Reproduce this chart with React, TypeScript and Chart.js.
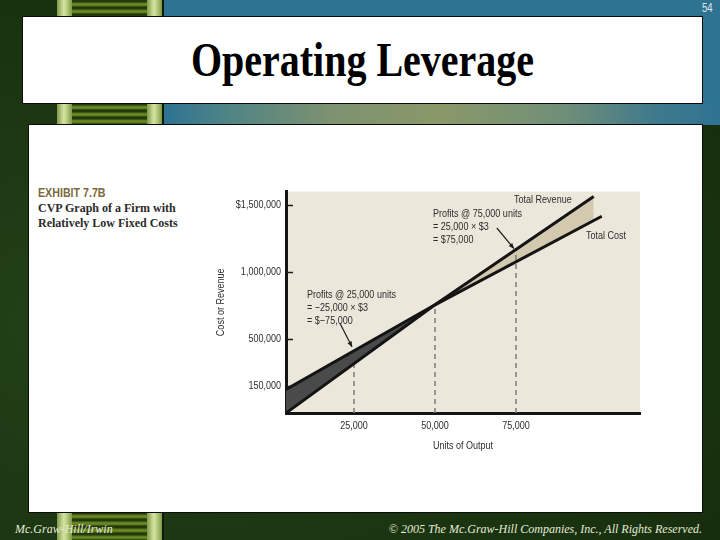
import React, { useEffect, useRef } from 'react';
import { Chart, registerables } from 'chart.js';

Chart.register(...registerables);

// ---- data ----
const xTickValues = [25000, 50000, 75000];
const xTickLabels = ['25,000', '50,000', '75,000'];
const yTickValues = [150000, 500000, 1000000, 1500000];
const yTickLabels = ['150,000', '500,000', '1,000,000', '$1,500,000'];

const xAxisMin = 4000;
const xAxisMax = 113300;
const yAxisMin = -51500;
const yAxisMax = 1603000;

const revenueUnits = [4000, 50000, 99000];
const revenueValues = [-51500, 757000, 1566000];
const costUnits = [4000, 50000, 101500];
const costValues = [125000, 757000, 1419000];

const guideUnits = [25000, 50000, 75000];
const guideTops = [325000, 757000, 1169000];

const revenueLabel = 'Total Revenue';
const costLabel = 'Total Cost';
const profit75Lines = ['Profits @ 75,000 units', '= 25,000 \u00d7 $3', '= $75,000'];
const profit25Lines = ['Profits @ 25,000 units', '= \u221225,000 \u00d7 $3', '= $\u221275,000'];

const SANS = "'Liberation Sans', Arial, sans-serif";
const SERIF = "'Liberation Serif', 'Times New Roman', serif";
const NARROW_SCALE = 0.82;

// make every text drawn on this canvas narrow (mimics a condensed face)
function makeNarrow(ctx: any) {
  if (ctx.__narrow) return;
  ctx.__narrow = true;
  const orig = ctx.fillText;
  ctx.fillText = function (text: string, x: number, y: number, maxWidth?: number) {
    this.save();
    this.translate(x, y);
    this.scale(NARROW_SCALE, 1);
    if (maxWidth !== undefined) orig.call(this, text, 0, 0, maxWidth / NARROW_SCALE);
    else orig.call(this, text, 0, 0);
    this.restore();
  };
}

const annotationPlugin = {
  id: 'cvpAnnotations',
  beforeDraw(chart: any) {
    const { ctx, chartArea } = chart;
    ctx.save();
    ctx.fillStyle = '#ebe7db';
    ctx.fillRect(chartArea.left, chartArea.top, chartArea.right - chartArea.left, chartArea.bottom - chartArea.top);
    ctx.restore();
  },
  afterDraw(chart: any) {
    const { ctx, chartArea } = chart;
    const xs = chart.scales.x;
    const ys = chart.scales.y;
    const px = (u: number) => xs.getPixelForValue(u);
    const py = (v: number) => ys.getPixelForValue(v);
    ctx.save();
    // inner tick marks on y axis
    ctx.strokeStyle = '#1a1a1a';
    ctx.lineWidth = 1.5;
    yTickValues.forEach((v) => {
      const y = Math.round(py(v)) + 0.5;
      ctx.beginPath();
      ctx.moveTo(chartArea.left, y);
      ctx.lineTo(chartArea.left + 7, y);
      ctx.stroke();
    });

    ctx.font = `11px ${SANS}`;
    ctx.fillStyle = '#2e2e2e';
    ctx.textAlign = 'left';
    ctx.textBaseline = 'middle';
    ctx.fillText(revenueLabel, px(74400), py(1544000));
    ctx.fillText(costLabel, px(96600), py(1272000));
    profit75Lines.forEach((t, i) => ctx.fillText(t, px(49400), py(1434000) + i * 13));
    profit25Lines.forEach((t, i) => ctx.fillText(t, px(10500), py(831000) + i * 13));

    const arrow = (x1: number, y1: number, x2: number, y2: number) => {
      ctx.strokeStyle = '#1e1e1e';
      ctx.fillStyle = '#1e1e1e';
      ctx.lineWidth = 1.2;
      ctx.beginPath();
      ctx.moveTo(x1, y1);
      ctx.lineTo(x2, y2);
      ctx.stroke();
      const a = Math.atan2(y2 - y1, x2 - x1);
      const L = 6;
      ctx.beginPath();
      ctx.moveTo(x2, y2);
      ctx.lineTo(x2 - L * Math.cos(a - 0.4), y2 - L * Math.sin(a - 0.4));
      ctx.lineTo(x2 - L * Math.cos(a + 0.4), y2 - L * Math.sin(a + 0.4));
      ctx.closePath();
      ctx.fill();
    };
    arrow(px(69100), py(1331000), px(74400), py(1176000));
    arrow(px(20700), py(618000), px(24400), py(441000));
    ctx.restore();
  },
};

function CvpChart() {
  const ref = useRef<HTMLCanvasElement | null>(null);
  useEffect(() => {
    if (!ref.current) return;
    makeNarrow(ref.current.getContext('2d'));
    const lineColor = '#141414';
    const chart = new Chart(ref.current, {
      type: 'line',
      data: {
        datasets: [
          {
            label: 'Total Revenue',
            data: revenueUnits.map((u, i) => ({ x: u, y: revenueValues[i] })),
            borderColor: lineColor,
            borderWidth: 3,
            pointRadius: 0,
            fill: { target: 1, above: '#d2c9af', below: '#4a4a4a' },
          },
          {
            label: 'Total Cost',
            data: costUnits.map((u, i) => ({ x: u, y: costValues[i] })),
            borderColor: lineColor,
            borderWidth: 3,
            pointRadius: 0,
            fill: false,
          },
          ...guideUnits.map((u, i) => ({
            label: 'guide' + i,
            data: [
              { x: u, y: yAxisMin },
              { x: u, y: guideTops[i] },
            ],
            borderColor: '#7a7a7a',
            borderWidth: 1.5,
            borderDash: [5, 4],
            pointRadius: 0,
            fill: false,
          })),
        ],
      } as any,
      options: {
        animation: false,
        responsive: false,
        events: [],
        layout: { padding: { left: 0, right: 10, top: 8, bottom: 0 } },
        plugins: {
          legend: { display: false },
          tooltip: { enabled: false },
          filler: { drawTime: 'beforeDatasetsDraw' },
        } as any,
        scales: {
          x: {
            type: 'linear',
            min: xAxisMin,
            max: xAxisMax,
            afterBuildTicks: (s: any) => {
              s.ticks = xTickValues.map((v) => ({ value: v }));
            },
            afterFit: (s: any) => {
              s.height = 47;
            },
            ticks: {
              autoSkip: false,
              maxRotation: 0,
              padding: 6,
              color: '#2e2e2e',
              font: { family: SANS, size: 11 },
              callback: (v: any) => {
                const i = xTickValues.indexOf(Number(v));
                return i >= 0 ? xTickLabels[i] : '';
              },
            },
            grid: { display: false, drawTicks: false },
            border: { display: true, color: '#141414', width: 3 },
            title: {
              display: true,
              text: 'Units of Output',
              color: '#2e2e2e',
              font: { family: SANS, size: 11 },
              padding: { top: 0, bottom: 7 },
            },
          },
          y: {
            type: 'linear',
            min: yAxisMin,
            max: yAxisMax,
            afterBuildTicks: (s: any) => {
              s.ticks = yTickValues.map((v) => ({ value: v }));
            },
            afterFit: (s: any) => {
              s.width = 86;
            },
            ticks: {
              autoSkip: false,
              padding: 5,
              color: '#2e2e2e',
              font: { family: SANS, size: 11 },
              callback: (v: any) => {
                const i = yTickValues.indexOf(Number(v));
                return i >= 0 ? yTickLabels[i] : '';
              },
            },
            grid: { display: false, drawTicks: false },
            border: { display: true, color: '#141414', width: 3 },
            title: {
              display: true,
              text: 'Cost or Revenue',
              color: '#2e2e2e',
              font: { family: SANS, size: 11 },
              padding: { top: 14, bottom: 0 },
            },
          },
        },
      } as any,
      plugins: [annotationPlugin],
    });
    return () => chart.destroy();
  }, []);
  return <canvas ref={ref} width={450} height={280} style={{ display: 'block', width: 450, height: 280 }} />;
}

function Ladder({ top, height }: { top: number; height: number }) {
  const bar = 'linear-gradient(to right, #7f9a48, #d5e3a2 45%, #c2d48a 60%, #7f9a48)';
  return (
    <div style={{ position: 'absolute', left: 57, top, width: 107, height }}>
      <div style={{ position: 'absolute', left: 0, top: 0, width: 15, height, background: bar }} />
      <div
        style={{
          position: 'absolute',
          left: 15,
          top: 0,
          width: 75,
          height,
          background:
            'repeating-linear-gradient(to bottom, #24380c 0px, #24380c 2px, #5a7a1e 3px, #6d8f28 5px, #4a6a16 6px, #24380c 7px)',
        }}
      />
      <div style={{ position: 'absolute', left: 90, top: 0, width: 15, height, background: bar }} />
      <div style={{ position: 'absolute', left: 105, top: 0, width: 2, height, background: '#0e1a06' }} />
    </div>
  );
}

export default function App() {
  return (
    <div
      style={{
        position: 'absolute',
        left: 0,
        top: 0,
        width: 720,
        height: 540,
        overflow: 'hidden',
        background: 'radial-gradient(ellipse at 20% 60%, #23421a 0%, #1a3410 60%, #142a0b 100%)',
      }}
    >
      <div style={{ position: 'absolute', left: 164, top: 0, width: 556, height: 125, background: '#2f7392' }} />
      <div
        style={{
          position: 'absolute',
          left: 164,
          top: 103,
          width: 556,
          height: 22,
          background:
            'linear-gradient(to right, #2f7392 0%, #4f8584 12%, #7d9270 30%, #8a9868 50%, #6f8f78 72%, #3f7a8c 88%, #2f7392 100%)',
        }}
      />
      <Ladder top={0} height={16} />
      <Ladder top={103} height={22} />
      <Ladder top={512} height={28} />

      <div
        style={{
          position: 'absolute',
          left: 22,
          top: 16,
          width: 681,
          height: 88,
          background: '#ffffff',
          border: '1px solid #0c0c0c',
          boxSizing: 'border-box',
        }}
      />
      <div
        style={{
          position: 'absolute',
          left: 22,
          top: 43,
          width: 681,
          height: 40,
          lineHeight: '40px',
          textAlign: 'center',
          fontFamily: SERIF,
          fontWeight: 'bold',
          fontSize: 40,
          color: '#000',
          transform: 'scaleY(1.2)',
          transformOrigin: '50% 33px',
          whiteSpace: 'nowrap',
        }}
      >
        Operating Leverage
      </div>

      <div
        style={{
          position: 'absolute',
          left: 28,
          top: 124,
          width: 675,
          height: 389,
          background: '#ffffff',
          border: '1px solid #0c0c0c',
          boxSizing: 'border-box',
        }}
      />

      <div style={{ position: 'absolute', left: 38, top: 185, whiteSpace: 'nowrap' }}>
        <div
          style={{
            fontFamily: SANS,
            fontWeight: 'bold',
            fontSize: 13,
            color: '#7b6a3c',
            lineHeight: '16px',
            transform: 'scaleX(0.82)',
            transformOrigin: '0 50%',
          }}
        >
          EXHIBIT 7.7B
        </div>
        <div style={{ fontFamily: SERIF, fontWeight: 'bold', fontSize: 12, color: '#2b2b2b', lineHeight: '15px' }}>
          CVP Graph of a Firm with
        </div>
        <div style={{ fontFamily: SERIF, fontWeight: 'bold', fontSize: 12, color: '#2b2b2b', lineHeight: '15px' }}>
          Relatively Low Fixed Costs
        </div>
      </div>

      <div style={{ position: 'absolute', left: 200, top: 180, width: 450, height: 280 }}>
        <CvpChart />
      </div>

      <div
        style={{
          position: 'absolute',
          left: 15,
          top: 522,
          fontFamily: SERIF,
          fontStyle: 'italic',
          fontSize: 12,
          color: '#e6ebd6',
          whiteSpace: 'nowrap',
        }}
      >
        Mc.Graw-Hill/Irwin
      </div>
      <div
        style={{
          position: 'absolute',
          right: 18,
          top: 522,
          fontFamily: SERIF,
          fontStyle: 'italic',
          fontSize: 12,
          color: '#e6ebd6',
          whiteSpace: 'nowrap',
        }}
      >
        © 2005 The Mc.Graw-Hill Companies, Inc., All Rights Reserved.
      </div>
      <div
        style={{
          position: 'absolute',
          left: 702,
          top: 1,
          fontFamily: SANS,
          fontSize: 12,
          color: '#dfe6ee',
          whiteSpace: 'nowrap',
          transform: 'scaleX(0.8)',
          transformOrigin: '0 50%',
        }}
      >
        54
      </div>
    </div>
  );
}
